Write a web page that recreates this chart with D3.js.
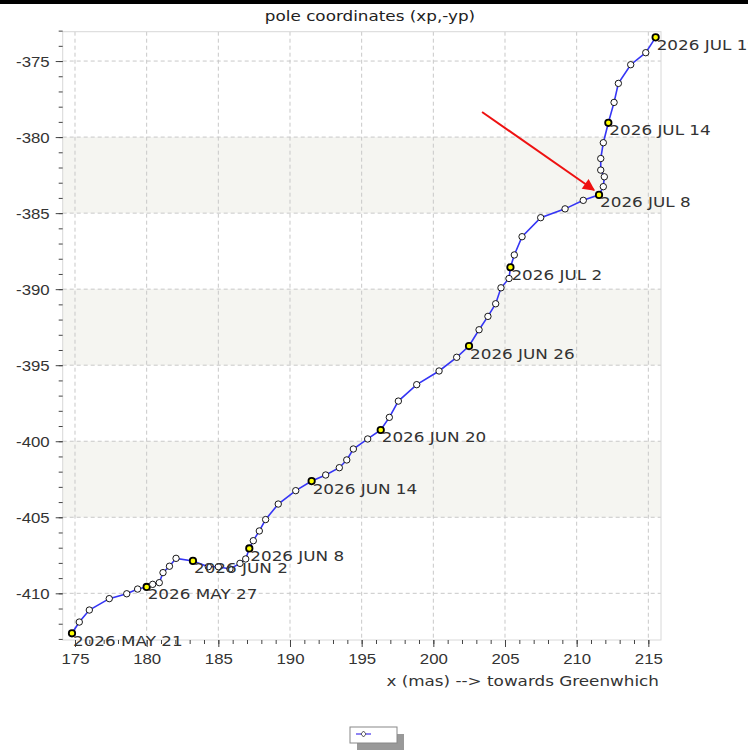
<!DOCTYPE html>
<html>
<head>
<meta charset="utf-8">
<script src="https://cdn.jsdelivr.net/npm/d3@7"></script>
<style>
  body { margin: 0; background: #fff; }
  svg { display: block; font-family: "DejaVu Sans", sans-serif; }
</style>
</head>
<body>
<script>
// daily pole positions, 2026 May 21 .. Jul 19
const startDay = "2026-05-21";
const xp = [
  174.79, 175.30, 176.00, 177.39, 178.61, 179.37, 180.00, 180.42, 180.88, 181.14,
  181.59, 182.05, 183.23, 184.30, 185.00, 185.81, 186.51, 186.91, 187.16, 187.44,
  187.86, 188.30, 189.18, 190.40, 191.51, 192.49, 193.44, 193.96, 194.42, 195.42,
  196.33, 196.93, 197.56, 198.84, 200.40, 201.63, 202.49, 203.19, 203.81, 204.35,
  204.72, 205.28, 205.38, 205.65, 206.19, 207.49, 209.19, 210.46, 211.56, 211.86,
  211.93, 211.68, 211.68, 211.86, 212.21, 212.61, 212.91, 213.77, 214.82, 215.51
];
const yp = [
  -412.63, -411.89, -411.10, -410.35, -410.03, -409.72, -409.58, -409.41, -409.30, -408.64,
  -408.22, -407.70, -407.87, -408.25, -408.25, -408.40, -408.03, -407.74, -407.05, -406.54,
  -405.90, -405.15, -404.13, -403.25, -402.62, -402.22, -401.74, -401.23, -400.51, -399.85,
  -399.26, -398.43, -397.36, -396.28, -395.38, -394.48, -393.74, -392.67, -391.79, -390.96,
  -389.91, -389.30, -388.56, -387.75, -386.55, -385.30, -384.72, -384.16, -383.80, -383.26,
  -382.61, -382.17, -381.41, -380.37, -379.06, -377.72, -376.47, -375.24, -374.45, -373.44
];
const labelEvery = 6;
const xTicks = [175, 180, 185, 190, 195, 200, 205, 210, 215];
const yTicks = [-375, -380, -385, -390, -395, -400, -405, -410];
const bands = [[-380, -385], [-390, -395], [-400, -405]];
const arrow = [[203.40, -378.35], [211.21, -383.48]];

const W = 748, H = 752;
const plot = { left: 62.7, right: 661, top: 31.7, bottom: 640 };
const SX = 1.2; // text in the picture is stretched sideways

const svg = d3.select("body").append("svg")
  .attr("width", W).attr("height", H);

svg.append("rect").attr("width", W).attr("height", 4).attr("fill", "#000");

const x = d3.scaleLinear().domain([174.142, 215.884]).range([plot.left, plot.right]);
const y = d3.scaleLinear().domain([-413.07, -373.07]).range([plot.bottom, plot.top]);

// background bands
svg.selectAll("rect.band").data(bands).enter().append("rect")
  .attr("class", "band")
  .attr("x", plot.left).attr("width", plot.right - plot.left)
  .attr("y", d => y(d[0])).attr("height", d => y(d[1]) - y(d[0]))
  .attr("fill", "#f5f5f1");

// grid
const grid = svg.append("g").attr("stroke", "#c8c8c8").attr("stroke-dasharray", "4,3").attr("stroke-width", 1);
grid.selectAll("line.v").data(xTicks).enter().append("line")
  .attr("x1", d => x(d)).attr("x2", d => x(d)).attr("y1", plot.top).attr("y2", plot.bottom);
grid.selectAll("line.h").data(yTicks).enter().append("line")
  .attr("y1", d => y(d)).attr("y2", d => y(d)).attr("x1", plot.left).attr("x2", plot.right);

// plot outline
svg.append("rect")
  .attr("x", plot.left).attr("y", plot.top)
  .attr("width", plot.right - plot.left).attr("height", plot.bottom - plot.top)
  .attr("fill", "none").attr("stroke", "#d8d8d8");

// axes: minor ticks every 1 mas, major every 5
const xMinor = d3.range(175, 216);
const yMinor = d3.range(-373, -414, -1);
const plain = d => String(d); // hyphen minus, like the picture

const xAxisG = svg.append("g").attr("transform", `translate(0,${plot.bottom})`);
xAxisG.append("g").call(d3.axisBottom(x).tickValues(xMinor).tickSize(4).tickFormat(""));
xAxisG.append("g").call(d3.axisBottom(x).tickValues(xTicks).tickSize(7).tickFormat(plain));
xAxisG.selectAll(".domain").remove();
xAxisG.selectAll("line").attr("stroke", "#444");
xAxisG.selectAll("text")
  .attr("y", 0).attr("dy", 0)
  .attr("transform", `translate(0,24) scale(${SX},1)`)
  .attr("font-size", 14).attr("fill", "#333");

const yAxisG = svg.append("g").attr("transform", `translate(${plot.left},0)`);
yAxisG.append("g").call(d3.axisLeft(y).tickValues(yMinor).tickSize(4).tickFormat(""));
yAxisG.append("g").call(d3.axisLeft(y).tickValues(yTicks).tickSize(7).tickFormat(plain));
yAxisG.selectAll(".domain").remove();
yAxisG.selectAll("line").attr("stroke", "#444");
yAxisG.selectAll("text")
  .attr("x", 0).attr("dy", 0)
  .attr("transform", `translate(-13,5) scale(${SX},1)`)
  .attr("font-size", 14).attr("fill", "#333");

// title and axis label
svg.append("text")
  .attr("transform", `translate(370,21) scale(${SX},1)`)
  .attr("text-anchor", "middle").attr("font-size", 14).attr("fill", "#222")
  .text("pole coordinates (xp,-yp)");
svg.append("text")
  .attr("transform", `translate(659,686) scale(${SX},1)`)
  .attr("text-anchor", "end").attr("font-size", 14).attr("fill", "#333")
  .text("x (mas) --> towards Greenwhich");

// path data
const day0 = d3.timeParse("%Y-%m-%d")(startDay);
const fmt = d3.timeFormat("%Y %b %-d");
const pts = xp.map((v, i) => {
  const dt = d3.timeDay.offset(day0, i);
  return { x: v, y: yp[i], label: fmt(dt).toUpperCase(),
           mark: i % labelEvery === 0 || i === xp.length - 1 };
});

svg.append("path").datum(pts)
  .attr("fill", "none").attr("stroke", "#3535f5").attr("stroke-width", 1.6)
  .attr("d", d3.line().x(d => x(d.x)).y(d => y(d.y)));

svg.selectAll("circle.pt").data(pts).enter().append("circle")
  .attr("class", "pt")
  .attr("cx", d => x(d.x)).attr("cy", d => y(d.y))
  .attr("r", 3.2)
  .attr("fill", d => d.mark ? "#ffff00" : "#fff")
  .attr("stroke", "#000")
  .attr("stroke-width", d => d.mark ? 1.8 : 0.9);

svg.selectAll("text.lab").data(pts.filter(d => d.mark)).enter().append("text")
  .attr("class", "lab")
  .attr("transform", d => `translate(${x(d.x) + 1},${y(d.y) + 12.5}) scale(${SX},1)`)
  .attr("font-size", 14).attr("fill", "#333")
  .text(d => d.label);

// red arrow
svg.append("defs").append("marker")
  .attr("id", "head").attr("viewBox", "0 0 10 10")
  .attr("refX", 9).attr("refY", 5)
  .attr("markerWidth", 8).attr("markerHeight", 6).attr("orient", "auto")
  .append("path").attr("d", "M0,0 L10,5 L0,10 z").attr("fill", "#ee1111");
svg.append("line")
  .attr("x1", x(arrow[0][0])).attr("y1", y(arrow[0][1]))
  .attr("x2", x(arrow[1][0])).attr("y2", y(arrow[1][1]))
  .attr("stroke", "#ee1111").attr("stroke-width", 2)
  .attr("marker-end", "url(#head)");

// legend
const lg = svg.append("g").attr("transform", "translate(350,727)");
lg.append("rect").attr("x", 7).attr("y", 7).attr("width", 47).attr("height", 16).attr("fill", "#999");
lg.append("rect").attr("width", 47).attr("height", 16).attr("fill", "#fff").attr("stroke", "#888");
lg.append("line").attr("x1", 6).attr("x2", 21).attr("y1", 7).attr("y2", 7)
  .attr("stroke", "#6a5cf0").attr("stroke-width", 1.5);
lg.append("path").attr("d", "M13.5,4 L16,7 L13.5,10 L11,7 z")
  .attr("fill", "#fff").attr("stroke", "#333").attr("stroke-width", 0.8);
</script>
</body>
</html>
